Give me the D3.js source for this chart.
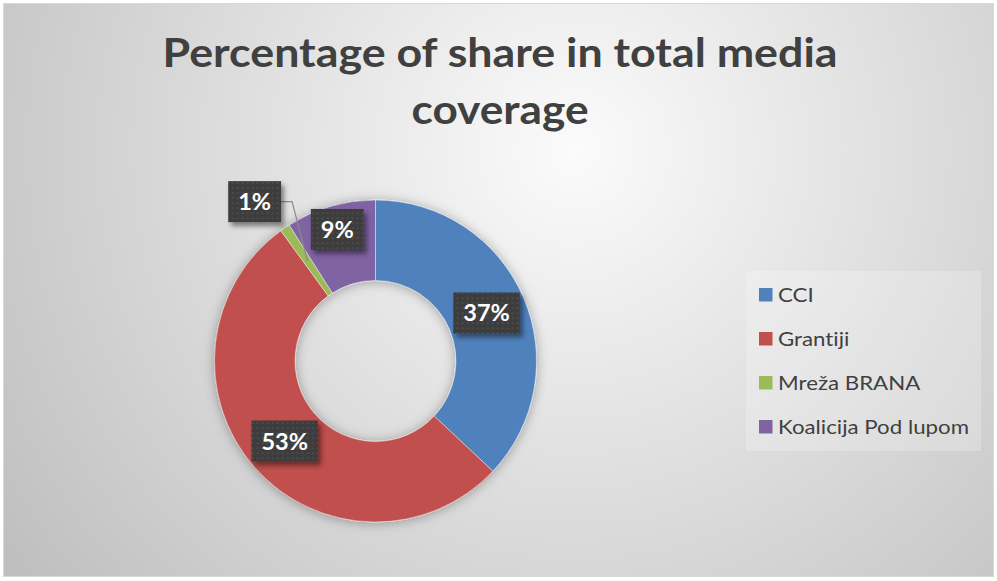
<!DOCTYPE html>
<html>
<head>
<meta charset="utf-8">
<script src="https://cdn.jsdelivr.net/npm/d3@7"></script>
<style>
  html, body { margin: 0; padding: 0; background: #ffffff; }
  svg { display: block; }
  svg text {
    font-family: Lato, "Open Sans", "Liberation Sans", sans-serif;
    font-variant-ligatures: none;
    font-feature-settings: "liga" 0, "clig" 0, "dlig" 0, "calt" 0;
  }
</style>
</head>
<body>
<svg id="chart" width="997" height="581"></svg>
<script>
// Series data
const categories = ["CCI", "Grantiji", "Mreža BRANA", "Koalicija Pod lupom"];
const shares = [37, 53, 1, 9];
const sliceColors = ["#4f81bd", "#c0504d", "#9bbb59", "#8064a2"];
const titleLines = ["Percentage of share in total media", "coverage"];

const svg = d3.select("#chart");
const defs = svg.append("defs");

// Background: soft radial grey fill
const bg = defs.append("radialGradient")
  .attr("id", "bgGrad")
  .attr("gradientUnits", "userSpaceOnUse")
  .attr("cx", 575).attr("cy", 150).attr("r", 720);
bg.append("stop").attr("offset", 0).attr("stop-color", "#fbfbfb");
bg.append("stop").attr("offset", 1).attr("stop-color", "#bdbdbd");

// Dotted dark texture for data labels
const pat = defs.append("pattern")
  .attr("id", "dots")
  .attr("patternUnits", "userSpaceOnUse")
  .attr("width", 5).attr("height", 5);
pat.append("rect").attr("width", 5).attr("height", 5).attr("fill", "#3d3d3d");
pat.append("rect").attr("x", 1.5).attr("y", 1.5).attr("width", 1.4).attr("height", 1.4).attr("fill", "#575757");

// Shadows
const ringShadow = defs.append("filter").attr("id", "ringShadow")
  .attr("x", "-20%").attr("y", "-20%").attr("width", "140%").attr("height", "140%");
ringShadow.append("feDropShadow").attr("dx", 0).attr("dy", 1)
  .attr("stdDeviation", 6).attr("flood-color", "#000").attr("flood-opacity", 0.32);

const boxShadow = defs.append("filter").attr("id", "boxShadow")
  .attr("x", "-30%").attr("y", "-30%").attr("width", "160%").attr("height", "170%");
boxShadow.append("feDropShadow").attr("dx", 3).attr("dy", 4)
  .attr("stdDeviation", 2.5).attr("flood-color", "#000").attr("flood-opacity", 0.45);

// Chart area
svg.append("rect")
  .attr("x", 3.5).attr("y", 3.5).attr("width", 990).attr("height", 573)
  .attr("fill", "url(#bgGrad)")
  .attr("stroke", "#d9d9d9").attr("stroke-width", 1);

// Title
const title = svg.append("g").attr("fill", "#404040")
  .attr("font-weight", 700).attr("text-anchor", "middle");
const titleBaselines = [67, 124];
const titleWidths = [675, 177];
titleLines.forEach((line, i) => {
  title.append("text")
    .attr("x", 500).attr("y", titleBaselines[i])
    .attr("font-size", 40)
    .attr("textLength", titleWidths[i])
    .attr("lengthAdjust", "spacingAndGlyphs")
    .text(line);
});

// Donut
const cx = 375.5, cy = 361;
const outerR = 161, innerR = 80.5;
const pie = d3.pie().sort(null).value(d => d);
const arcs = pie(shares);
const arc = d3.arc().innerRadius(innerR).outerRadius(outerR);
const color = d3.scaleOrdinal().domain(categories).range(sliceColors);

const donut = svg.append("g").attr("transform", `translate(${cx},${cy})`);
donut.append("g").attr("filter", "url(#ringShadow)")
  .selectAll("path")
  .data(arcs)
  .join("path")
  .attr("d", arc)
  .attr("fill", (d, i) => color(categories[i]))
  .attr("stroke", "rgba(255,255,255,0.55)")
  .attr("stroke-width", 0.8);

// Data labels
const polar = (r, a) => [r * Math.sin(a), -r * Math.cos(a)];
const labels = donut.append("g");
const boxH = 41, padX = 10;

arcs.forEach((d, i) => {
  const mid = (d.startAngle + d.endAngle) / 2;
  const txt = `${d.data}%`;
  const g = labels.append("g");
  const t = g.append("text")
    .attr("fill", "#ffffff").attr("font-weight", 700)
    .attr("font-size", 23.5).attr("text-anchor", "middle")
    .text(txt);
  const w = t.node().getComputedTextLength() + padX * 2;

  let pos;
  if (d.data < 5) {
    // small slice: label placed outside, joined by a leader line
    pos = polar(200, mid - 0.052);
    const anchor = polar(121, mid);
    const edgeX = pos[0] + w / 2;
    g.insert("path", "text")
      .attr("d", d3.line()([[edgeX, pos[1]], [edgeX + 11, pos[1]], anchor]))
      .attr("fill", "none").attr("stroke", "#8a8a8a").attr("stroke-width", 1.2);
  } else {
    pos = polar(d.data < 20 ? 137 : 121, mid);
  }
  g.insert("rect", "text")
    .attr("x", pos[0] - w / 2).attr("y", pos[1] - boxH / 2)
    .attr("width", w).attr("height", boxH)
    .attr("fill", "url(#dots)")
    .attr("filter", "url(#boxShadow)");
  t.attr("x", pos[0]).attr("y", pos[1] + 8.5);
});

// Legend
const legend = svg.append("g");
legend.append("rect")
  .attr("x", 746).attr("y", 271).attr("width", 235).attr("height", 180)
  .attr("fill", "#ffffff").attr("fill-opacity", 0.22);

const legendY = d3.scalePoint().domain(categories).range([294.5, 426.5]);
const items = legend.selectAll("g.item")
  .data(categories)
  .join("g").attr("class", "item")
  .attr("transform", d => `translate(0,${legendY(d)})`);
items.append("rect")
  .attr("x", 759).attr("y", -6.5).attr("width", 13.5).attr("height", 13.5)
  .attr("fill", d => color(d));
const legendText = items.append("text")
  .attr("x", 778).attr("y", 7)
  .attr("font-size", 20).attr("fill", "#404040")
  .style("font-variant-ligatures", "none")
  .text(d => d);

// Widen legend labels to the Calibri-like run length of the longest entry
const longest = d3.max(legendText.nodes(), n => n.getComputedTextLength());
const stretch = 191 / longest;
legendText.each(function () {
  const w = this.getComputedTextLength();
  d3.select(this)
    .attr("textLength", w * stretch)
    .attr("lengthAdjust", "spacingAndGlyphs");
});
</script>
</body>
</html>
